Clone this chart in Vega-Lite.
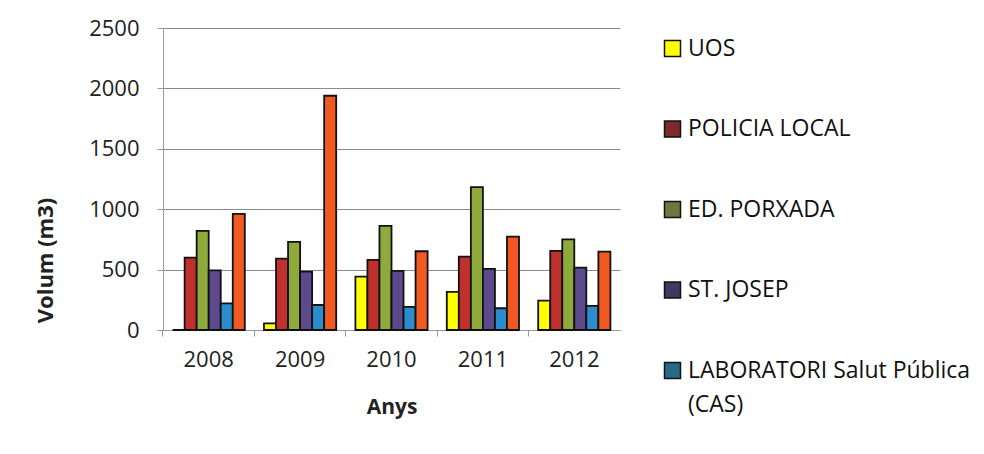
{
  "$schema": "https://vega.github.io/schema/vega-lite/v6.json",
  "width": 457,
  "height": 302,
  "autosize": {"type": "none"},
  "padding": {"left": 163, "top": 28, "right": 364, "bottom": 124},
  "background": "white",
  "config": {
    "font": "Open Sans",
    "view": {"stroke": null},
    "style": {"guide-label": {"lineHeight": 34}}
  },
  "data": {
    "values": [
      {"year": "2008", "serie": "UOS", "volum": 0},
      {"year": "2008", "serie": "POLICIA LOCAL", "volum": 599},
      {"year": "2008", "serie": "ED. PORXADA", "volum": 820},
      {"year": "2008", "serie": "ST. JOSEP", "volum": 494},
      {"year": "2008", "serie": "LABORATORI Salut Pública (CAS)", "volum": 221},
      {"year": "2008", "serie": "ALTRES", "volum": 961},
      {"year": "2009", "serie": "UOS", "volum": 55},
      {"year": "2009", "serie": "POLICIA LOCAL", "volum": 591},
      {"year": "2009", "serie": "ED. PORXADA", "volum": 729},
      {"year": "2009", "serie": "ST. JOSEP", "volum": 483},
      {"year": "2009", "serie": "LABORATORI Salut Pública (CAS)", "volum": 207},
      {"year": "2009", "serie": "ALTRES", "volum": 1939},
      {"year": "2010", "serie": "UOS", "volum": 442},
      {"year": "2010", "serie": "POLICIA LOCAL", "volum": 580},
      {"year": "2010", "serie": "ED. PORXADA", "volum": 862},
      {"year": "2010", "serie": "ST. JOSEP", "volum": 489},
      {"year": "2010", "serie": "LABORATORI Salut Pública (CAS)", "volum": 191},
      {"year": "2010", "serie": "ALTRES", "volum": 652},
      {"year": "2011", "serie": "UOS", "volum": 315},
      {"year": "2011", "serie": "POLICIA LOCAL", "volum": 608},
      {"year": "2011", "serie": "ED. PORXADA", "volum": 1182},
      {"year": "2011", "serie": "ST. JOSEP", "volum": 506},
      {"year": "2011", "serie": "LABORATORI Salut Pública (CAS)", "volum": 180},
      {"year": "2011", "serie": "ALTRES", "volum": 773},
      {"year": "2012", "serie": "UOS", "volum": 243},
      {"year": "2012", "serie": "POLICIA LOCAL", "volum": 655},
      {"year": "2012", "serie": "ED. PORXADA", "volum": 751},
      {"year": "2012", "serie": "ST. JOSEP", "volum": 517},
      {"year": "2012", "serie": "LABORATORI Salut Pública (CAS)", "volum": 199},
      {"year": "2012", "serie": "ALTRES", "volum": 649}
    ]
  },
  "layer": [
    {
      "mark": {"type": "bar", "stroke": "#111111", "strokeWidth": 1.8},
      "encoding": {
        "x": {
          "field": "year",
          "type": "nominal",
          "scale": {"paddingInner": 0.21, "paddingOuter": 0.105},
          "axis": {
            "orient": "bottom",
            "title": "Anys",
            "labelAngle": 0,
            "labelFontSize": 22,
            "labelColor": "#222222",
            "labelPadding": 19,
            "ticks": false,
            "domainColor": "#999999",
            "titleFontSize": 21,
            "titleFontWeight": "bold",
            "titleColor": "#222222",
            "titlePadding": 26
          }
        },
        "xOffset": {
          "field": "serie",
          "type": "nominal",
          "sort": ["UOS", "POLICIA LOCAL", "ED. PORXADA", "ST. JOSEP", "LABORATORI Salut Pública (CAS)", "ALTRES"],
          "scale": {"paddingInner": 0, "paddingOuter": 0}
        },
        "y": {
          "field": "volum",
          "type": "quantitative",
          "scale": {"domain": [0, 2500]},
          "axis": {
            "title": "Volum (m3)",
            "values": [0, 500, 1000, 1500, 2000, 2500],
            "format": "d",
            "labelFontSize": 22,
            "labelColor": "#222222",
            "labelPadding": 18,
            "tickSize": 6,
            "tickColor": "#999999",
            "domainColor": "#999999",
            "gridColor": "#8a8a8a",
            "titleFontSize": 22,
            "titleFontWeight": "bold",
            "titleColor": "#222222",
            "titleX": -118,
            "titleY": 232,
            "titleBaseline": "middle"
          }
        },
        "color": {
          "field": "serie",
          "type": "nominal",
          "scale": {
            "domain": ["UOS", "POLICIA LOCAL", "ED. PORXADA", "ST. JOSEP", "LABORATORI Salut Pública (CAS)", "ALTRES"],
            "range": ["#FFFF00", "#C0312E", "#8DAA3A", "#5C4A8C", "#2B8DCB", "#F05A22"]
          },
          "legend": null
        }
      }
    },
    {
      "transform": [{"filter": "datum.volum < 0"}],
      "mark": {"type": "square", "filled": true, "opacity": 1, "size": 256, "stroke": "#111111", "strokeWidth": 1.5},
      "encoding": {
        "x": {
          "field": "year",
          "type": "nominal",
          "axis": {
            "orient": "bottom",
            "title": null,
            "labels": false,
            "domain": false,
            "grid": false,
            "ticks": true,
            "tickSize": 6,
            "tickColor": "#999999",
            "bandPosition": -0.133
          }
        },
        "color": {
          "field": "serie",
          "type": "nominal",
          "scale": {
            "domain": ["UOS", "POLICIA LOCAL", "ED. PORXADA", "ST. JOSEP", "LABORATORI Salut Pública (CAS)"],
            "range": ["#FFFF00", "#7E2A2A", "#6A7A3C", "#3E3A62", "#286A85"]
          },
          "legend": {
            "title": null,
            "orient": "none",
            "legendX": 498,
            "legendY": 9,
            "padding": 0,
            "symbolType": "square",
            "symbolSize": 256,
            "symbolStrokeWidth": 1.5,
            "symbolOpacity": 1,
            "labelFontSize": 23,
            "labelColor": "#111111",
            "labelLimit": 400,
            "labelOffset": 4,
            "rowPadding": 56.5,
            "labelExpr": "datum.label == 'LABORATORI Salut Pública (CAS)' ? ['LABORATORI Salut Pública', '(CAS)'] : datum.label"
          }
        }
      }
    }
  ],
  "resolve": {"scale": {"color": "independent"}, "axis": {"x": "independent"}}
}
